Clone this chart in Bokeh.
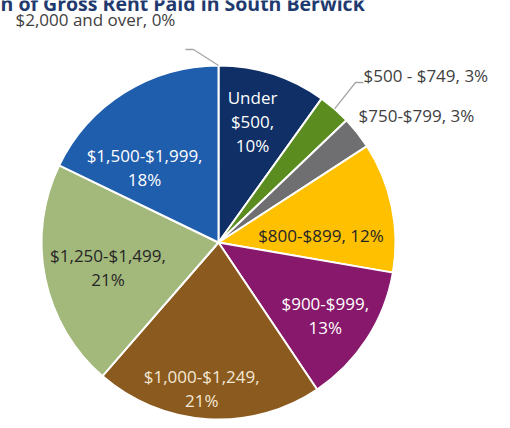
import math
from bokeh.plotting import figure
from bokeh.models import Range1d, ColumnDataSource
from bokeh.embed import file_html
from bokeh.resources import INLINE
from bokeh.core.properties import value

# ---------------- data ----------------
title_text = "n of Gross Rent Paid in South Berwick"
categories = ["Under $500", "$500 - $749", "$750-$799", "$800-$899", "$900-$999",
              "$1,000-$1,249", "$1,250-$1,499", "$1,500-$1,999", "$2,000 and over"]
percents = [10, 3, 3, 12, 13, 21, 21, 18, 0]

# ---------------- style ----------------
colors = ["#0f2f66", "#5b8c1f", "#6f6f72", "#ffc000", "#88186b",
          "#8b5a1e", "#a3b87b", "#1f5dad", "#2e75b6"]
# label placement: "in" or "out"; for inside labels radius factor and angle nudge (deg)
placement = ["in", "out", "out", "in", "in", "in", "in", "in", "out"]
label_rf = [0.71, 0, 0, 0.58, 0.73, 0.83, 0.64, 0.595, 0]
label_dang = [-2.1, 0, 0, 7.7, 1.3, 3.0, -1.1, -12.5, 0]
label_colors = ["#ffffff", "#404040", "#404040", "#262626", "#ffffff",
                "#f3e8d6", "#262626", "#ffffff", "#404040"]
line_break = ["words", "none", "none", "none", "pct", "pct", "pct", "pct", "none"]
# outside label anchor (px, left aligned) and leader elbow
out_pos = {1: (363, 75), 2: (358, 115), 8: (15, 19)}
leaders = {1: [(355, 82), (363, 82)], 8: [(193, 49), (185, 49)]}

CX, CY, R = 218, 242, 177  # pixel coordinates from the top-left
W, H = 494, 420
FONT = "Open Sans"
FS = "17px"

p = figure(width=W, height=H, output_backend="svg", toolbar_location=None,
           x_range=Range1d(0, W), y_range=Range1d(-H, 0),
           min_border=0, outline_line_color=None, background_fill_color="white")
p.axis.visible = False
p.grid.visible = False

total = float(sum(percents))
starts, ends, mids = [], [], []
c = 0.0
for v in percents:
    starts.append(c / total)
    c += v
    ends.append(c / total)
    mids.append((starts[-1] + ends[-1]) / 2)

idx = [i for i, v in enumerate(percents) if v > 0]
src = ColumnDataSource(dict(
    x=[CX] * len(idx), y=[-CY] * len(idx),
    start=[math.pi / 2 - 2 * math.pi * starts[i] for i in idx],
    end=[math.pi / 2 - 2 * math.pi * ends[i] for i in idx],
    color=[colors[i] for i in idx],
))
p.wedge(x="x", y="y", radius=R, start_angle="start", end_angle="end",
        direction="clock", fill_color="color", line_color="white", line_width=2,
        source=src)

def label_text(i):
    cat, pct = categories[i], f"{percents[i]}%"
    if line_break[i] == "words":
        return cat.replace(" ", "\n") + ",\n" + pct
    if line_break[i] == "pct":
        return cat + ",\n" + pct
    return cat + ", " + pct

# inside labels
ix, iy, it, ic = [], [], [], []
for i in range(len(percents)):
    if placement[i] != "in":
        continue
    ang = math.radians(mids[i] * 360 + label_dang[i])
    r = R * label_rf[i]
    ix.append(CX + r * math.sin(ang))
    iy.append(-(CY - r * math.cos(ang)))
    it.append(label_text(i))
    ic.append(label_colors[i])
p.text(x=ix, y=iy, text=it, text_color=ic, text_align="center",
       text_baseline="middle", text_font=value(FONT), text_font_size=FS,
       text_line_height=1.04)

# outside labels and leaders
for i in range(len(percents)):
    if placement[i] != "out":
        continue
    ox, oy = out_pos[i]
    p.text(x=[ox], y=[-oy], text=[label_text(i)], text_color=label_colors[i],
           text_align="left", text_baseline="middle", text_font=value(FONT),
           text_font_size=FS)
    if i in leaders:
        ang = 2 * math.pi * mids[i]
        px0 = CX + R * math.sin(ang)
        py0 = CY - R * math.cos(ang)
        pts = [(px0, py0)] + leaders[i]
        p.line(x=[q[0] for q in pts], y=[-q[1] for q in pts],
               line_color="#a6a6a6", line_width=1.3)

# title (cut off at top, as in the reference)
p.text(x=[0], y=[-3], text=[title_text], text_color="#1f3a6e",
       text_align="left", text_baseline="alphabetic", text_font=value(FONT),
       text_font_size="19.5px", text_font_style="bold")

open("out.html", "w").write(file_html(p, INLINE))
